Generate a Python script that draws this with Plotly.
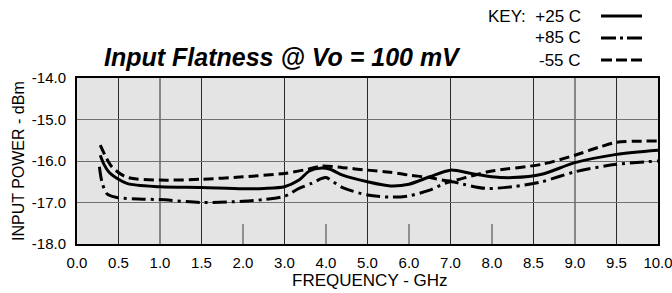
import numpy as np
import plotly.graph_objects as go

# ---- axis definition (non-uniform frequency labels, equally spaced) ----
tick_freq = [0.0, 0.5, 1.0, 1.5, 2.0, 3.0, 4.0, 5.0, 6.0, 7.0, 8.0, 8.5, 9.0, 9.5, 10.0]
tick_labels = ["0.0", "0.5", "1.0", "1.5", "2.0", "3.0", "4.0", "5.0", "6.0",
               "7.0", "8.0", "8.5", "9.0", "9.5", "10.0"]
grid_full = [0.5, 1.0, 1.5, 3.0, 5.0, 7.0, 8.5, 9.0, 9.5]
grid_short = [2.0, 4.0, 6.0, 8.0]
y_ticks = [-18.0, -17.0, -16.0, -15.0, -14.0]
y_labels = ["-18.0", "-17.0", "-16.0", "-15.0", "-14.0"]

# ---- series (frequency in GHz, input power in dBm) ----
freq_25 = [0.28, 0.33, 0.40, 0.60, 1.00, 1.50, 2.00, 2.50, 3.00, 3.35, 3.60, 3.90,
           4.10, 4.40, 5.00, 5.55, 6.00, 6.50, 7.00, 7.50, 8.00, 8.25, 8.60, 9.00,
           9.50, 10.00]
p_25 = [-15.86, -16.10, -16.30, -16.54, -16.62, -16.64, -16.67, -16.66, -16.62,
        -16.46, -16.24, -16.17, -16.20, -16.34, -16.50, -16.60, -16.56, -16.38,
        -16.22, -16.30, -16.38, -16.40, -16.32, -16.04, -15.84, -15.74]

freq_85 = [0.27, 0.30, 0.36, 0.48, 0.80, 1.00, 1.50, 2.00, 2.50, 3.00, 3.35, 3.65,
           3.90, 4.00, 4.40, 5.00, 5.55, 6.00, 6.50, 7.00, 7.30, 7.85, 8.25, 8.60,
           9.00, 9.50, 10.00]
p_85 = [-16.14, -16.50, -16.79, -16.88, -16.92, -16.93, -17.00, -16.97, -16.93,
        -16.85, -16.66, -16.54, -16.42, -16.40, -16.64, -16.82, -16.87, -16.84,
        -16.70, -16.50, -16.56, -16.66, -16.62, -16.50, -16.26, -16.08, -16.00]

freq_55 = [0.28, 0.42, 0.60, 1.00, 1.50, 2.00, 3.00, 3.55, 3.90, 4.40, 5.00, 5.55,
           6.00, 6.50, 7.00, 7.50, 8.00, 8.60, 9.00, 9.30, 9.50, 10.00]
p_55 = [-15.62, -16.14, -16.39, -16.46, -16.44, -16.38, -16.30, -16.20, -16.12,
        -16.16, -16.22, -16.27, -16.34, -16.40, -16.48, -16.36, -16.24, -16.08,
        -15.86, -15.66, -15.55, -15.52]

series_names = ["+25 C", "+85 C", "-55 C"]

tick_pos = np.arange(len(tick_freq))


def to_axis(f):
    return np.interp(f, tick_freq, tick_pos)


# ---- layout geometry helpers (pixels -> paper) ----
W, H = 672, 293
L, R, T, B = 77, 14, 78, 49
PW, PH = W - L - R, H - T - B


def xp(px):
    return (px - L) / PW


def yp(py):
    return (H - B - py) / PH


plot_dash = ["solid", "14px,5px,3px,5px", "10px,5px"]
key_dash = ["solid", "15px,4px,3px,4px", "11px,4px"]

fig = go.Figure()
for f, p, name, d in zip([freq_25, freq_85, freq_55], [p_25, p_85, p_55],
                         series_names, plot_dash):
    fig.add_trace(go.Scatter(
        x=to_axis(f), y=p, mode="lines", name=name, showlegend=False,
        line=dict(color="black", width=3, dash=d, shape="spline", smoothing=0.8),
    ))

shapes = []
for g in grid_full:
    xv = float(to_axis(g))
    shapes.append(dict(type="line", xref="x", yref="y", x0=xv, x1=xv,
                       y0=-18.0, y1=-14.0, line=dict(color="#2a2a2a", width=1), layer="below"))
for g in grid_short:
    xv = float(to_axis(g))
    shapes.append(dict(type="line", xref="x", yref="y", x0=xv, x1=xv,
                       y0=-18.0, y1=-17.52, line=dict(color="#3a3a3a", width=1), layer="below"))

# key samples
key_rows = [16, 38, 60]
for row, d in zip(key_rows, key_dash):
    shapes.append(dict(type="line", xref="paper", yref="paper",
                       x0=xp(601), x1=xp(642), y0=yp(row), y1=yp(row),
                       line=dict(color="black", width=3, dash=d), layer="above"))

annotations = [
    dict(text="<b><i>Input Flatness @ Vo = 100 mV</i></b>", xref="paper", yref="paper",
         x=xp(282), y=yp(57), xanchor="center", yanchor="middle", showarrow=False,
         font=dict(size=25, color="black")),
    dict(text="FREQUENCY - GHz", xref="paper", yref="paper", x=xp(370), y=yp(280),
         xanchor="center", yanchor="middle", showarrow=False, font=dict(size=17)),
    dict(text="INPUT POWER - dBm", xref="paper", yref="paper", x=xp(18), y=yp(161),
         xanchor="center", yanchor="middle", showarrow=False, textangle=-90,
         font=dict(size=16)),
]
key_texts = ["KEY:  " + series_names[0], series_names[1], series_names[2]]
for row, txt in zip(key_rows, key_texts):
    annotations.append(dict(text=txt, xref="paper", yref="paper", x=xp(583), y=yp(row),
                            xanchor="right", yanchor="middle", showarrow=False,
                            font=dict(size=17)))

fig.update_layout(
    width=W, height=H, autosize=False,
    margin=dict(l=L, r=R, t=T, b=B, pad=0, autoexpand=False),
    paper_bgcolor="white", plot_bgcolor="#e4e4e4",
    font=dict(family="Liberation Sans, Arial, sans-serif", color="black"),
    shapes=shapes, annotations=annotations,
    xaxis=dict(range=[0, len(tick_freq) - 1], tickvals=list(tick_pos), ticktext=tick_labels,
               showgrid=False, zeroline=False, showline=True, linecolor="black",
               linewidth=2, mirror=True, ticks="", tickfont=dict(size=15),
               ticklabelstandoff=4, ticklabeloverflow="allow", automargin=False),
    yaxis=dict(range=[-18, -14], tickvals=y_ticks, ticktext=y_labels,
               showgrid=True, gridcolor="#707070", gridwidth=1, zeroline=False,
               showline=True, linecolor="black", linewidth=2, mirror=True, ticks="",
               tickfont=dict(size=15), ticklabelstandoff=6, automargin=False),
)

fig.write_html("out.html", config={"displayModeBar": False, "responsive": False},
               post_script="document.body.style.margin='0px';"
                           "document.body.style.overflow='hidden';")
